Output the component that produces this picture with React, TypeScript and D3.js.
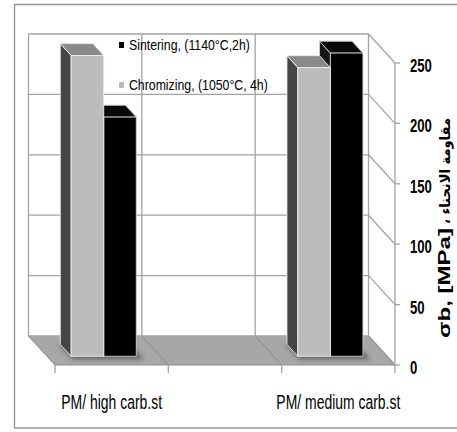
import React from "react";
import * as d3 from "d3";

// Bending strength of PM steels after sintering and chromizing
const categories = ["PM/ high carb.st", "", "PM/ medium carb.st"];
const seriesKeys = ["chromizing", "sintering"];
const legendKeys = ["sintering", "chromizing"];
const legendLabels = ["Sintering, (1140°C,2h)", "Chromizing, (1050°C, 4h)"];
const chromizingValues: (number | null)[] = [249, null, 239];
const sinteringValues: (number | null)[] = [198, null, 251];
const yTickValues = [0, 50, 100, 150, 200, 250];
const yTitleLatin = "σb, [MPa]";
const yTitleArabic = "، مقاومة الانحناء";

const W = 457;
const H = 432;
// screen offset of the back wall relative to the front plane
const DX = 26.5;
const DY = 29;
// depth span of the columns inside the floor (0 = front, 1 = back)
const D0 = 0.3;
const D1 = 0.71;

const FONT = "'Liberation Sans', Arial, sans-serif";
const NARROW = 0.82; // horizontal squeeze for a condensed look
const GRID = "#a3a3a3";

const styles: Record<string, { front: string; top: string; side: string; edge: string }> = {
  chromizing: { front: "#bcbcbc", top: "#8a8a8a", side: "#454545", edge: "#ececec" },
  sintering: { front: "#000000", top: "#080808", side: "#151515", edge: "#cfcfcf" },
};

export default function App() {
  const valuesByKey: Record<string, (number | null)[]> = {
    chromizing: chromizingValues,
    sintering: sinteringValues,
  };

  const x = d3
    .scaleBand<number>()
    .domain(categories.map((_, i) => i))
    .range([55, 395])
    .padding(0);
  const y = d3.scaleLinear().domain([0, 250]).range([365, 63]);
  const sub = d3
    .scaleBand<string>()
    .domain(seriesKeys)
    .range([0, x.bandwidth()])
    .paddingInner(0)
    .paddingOuter(0.74);

  const [x0, x1] = x.range();
  const bounds = [...categories.map((_, i) => x(i) as number), x1];

  const P = (px: number, v: number, d: number): [number, number] => [px - DX * d, y(v) - DY * d];
  const pts = (arr: [number, number][]) => arr.map((p) => p.map((n) => n.toFixed(2)).join(",")).join(" ");

  const line = (a: [number, number], b: [number, number], key: string, stroke = GRID, w = 1.3) => (
    <line key={key} x1={a[0]} y1={a[1]} x2={b[0]} y2={b[1]} stroke={stroke} strokeWidth={w} />
  );

  const shadows: React.ReactNode[] = [];
  const bars: React.ReactNode[] = [];
  categories.forEach((_, ci) => {
    const keysPresent = seriesKeys.filter((k) => valuesByKey[k][ci] != null);
    if (keysPresent.length === 0) return;
    const cx0 = (x(ci) as number) + (sub(keysPresent[0]) as number);
    const cx1 = (x(ci) as number) + (sub(keysPresent[keysPresent.length - 1]) as number) + sub.bandwidth();
    shadows.push(
      <polygon
        key={`sh-${ci}`}
        points={pts([P(cx0 - 2, 0, D1), P(cx1 + 4, 0, D1), P(cx1 + 5, 0, D0 - 0.1), P(cx0 - 1, 0, D0 - 0.1)])}
        fill="#2e2e2e"
        opacity={0.55}
        filter="url(#soft)"
      />
    );
    // right column first so the left one covers its side face
    [...seriesKeys].reverse().forEach((k) => {
      const v = valuesByKey[k][ci];
      if (v == null) return;
      const s = styles[k];
      const bx0 = (x(ci) as number) + (sub(k) as number);
      const bx1 = bx0 + sub.bandwidth();
      bars.push(
        <g key={`bar-${ci}-${k}`} strokeWidth={0.9} stroke={s.edge} strokeLinejoin="round">
          <polygon points={pts([P(bx0, 0, D0), P(bx0, v, D0), P(bx0, v, D1), P(bx0, 0, D1)])} fill={s.side} />
          <polygon points={pts([P(bx0, v, D0), P(bx1, v, D0), P(bx1, v, D1), P(bx0, v, D1)])} fill={s.top} />
          <polygon points={pts([P(bx0, 0, D0), P(bx1, 0, D0), P(bx1, v, D0), P(bx0, v, D0)])} fill={s.front} />
        </g>
      );
    });
  });

  return (
    <svg
      width={W}
      height={H}
      viewBox={`0 0 ${W} ${H}`}
      style={{ position: "absolute", left: 0, top: 0, background: "#fff" }}
    >
      <defs>
        <filter id="soft" x="-30%" y="-80%" width="160%" height="260%">
          <feGaussianBlur stdDeviation="2.2" />
        </filter>
      </defs>
      <rect x={0} y={0} width={W} height={H} fill="#fff" />
      <rect x={14.5} y={4.5} width={470} height={423.5} fill="none" stroke="#9a9a9a" strokeWidth={1.5} />

      {/* back wall grid */}
      {yTickValues.map((v) => line(P(x0, v, 1), P(x1, v, 1), `bg-${v}`))}
      {bounds.map((b, i) => line(P(b, 0, 1), P(b, 250, 1), `bv-${i}`))}

      {/* side wall grid */}
      {yTickValues.map((v) => line(P(x1, v, 1), P(x1, v, 0), `sg-${v}`))}

      {/* floor */}
      <polygon points={pts([P(x0, 0, 1), P(x1, 0, 1), P(x1, 0, 0), P(x0, 0, 0)])} fill="#a7a7a7" />
      {bounds.map((b, i) => line(P(b, 0, 1), P(b, 0, 0), `fd-${i}`, "#8f8f8f", 1.1))}
      {line(P(x0, 0, 0), P(x1, 0, 0), "floor-front", "#8d8d8d", 1.2)}

      {/* value axis */}
      {line(P(x1, 0, 0), P(x1, 250, 0), "axis", GRID, 1.3)}
      {yTickValues.map((v) => line([x1, y(v)], [x1 + 5, y(v)], `yt-${v}`, GRID, 1.3))}
      {bounds.map((b, i) => line([b, y(0)], [b, y(0) + 8], `xt-${i}`, GRID, 1.3))}

      {shadows}
      {bars}

      {/* legend */}
      {legendKeys.map((k, i) => (
        <g key={`lg-${k}`} transform={`translate(119, ${42 + i * 40})`}>
          <rect x={0} y={0} width={5} height={6} fill={styles[k].front} />
          <text
            transform={`translate(10, 8) scale(${NARROW}, 1)`}
            fontFamily={FONT}
            fontSize={15}
            fill="#000"
          >
            {legendLabels[i]}
          </text>
        </g>
      ))}

      {/* value tick labels */}
      {yTickValues.map((v) => (
        <text
          key={`yl-${v}`}
          transform={`translate(410, ${y(v) + 9}) scale(${NARROW}, 1.2)`}
          fontFamily={FONT}
          fontWeight="bold"
          fontSize={16}
          fill="#000"
        >
          {v}
        </text>
      ))}

      {/* category labels */}
      {categories.map((c, i) =>
        c ? (
          <text
            key={`cl-${i}`}
            transform={`translate(${(x(i) as number) + x.bandwidth() / 2}, 409) scale(${NARROW}, 1.23)`}
            textAnchor="middle"
            fontFamily={FONT}
            fontSize={17}
            fill="#000"
          >
            {c}
          </text>
        ) : null
      )}

      {/* value axis title */}
      <text
        transform="translate(450, 283) rotate(-90)"
        textAnchor="middle"
        fontFamily={FONT}
        fontWeight="bold"
        fontSize={16}
        textLength={110}
        lengthAdjust="spacingAndGlyphs"
        fill="#000"
      >
        {yTitleLatin}
      </text>
      <text
        transform="translate(450, 171) rotate(-90)"
        textAnchor="middle"
        fontFamily="'DejaVu Sans', sans-serif"
        fontWeight="bold"
        fontSize={14}
        textLength={106}
        lengthAdjust="spacingAndGlyphs"
        fill="#000"
      >
        {yTitleArabic}
      </text>
    </svg>
  );
}
